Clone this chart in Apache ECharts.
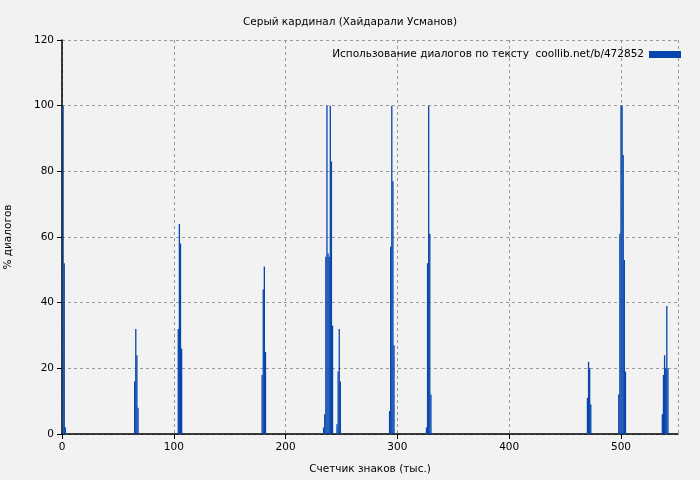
<!DOCTYPE html>
<html><head><meta charset="utf-8">
<script src="https://cdn.jsdelivr.net/npm/echarts@6/dist/echarts.min.js"></script>
<style>html,body{margin:0;padding:0;background:#f2f2f2}#c{width:700px;height:480px}</style>
</head><body><div id="c"></div>
<script>
const positions = [1,2,3, 65,66,67,68, 104,105,106,107, 179,180,181,182,
  234,235,236,237,238,239,240,241,242, 246,247,248,249,
  293,294,295,296,297, 326,327,328,329,330, 470,471,472,473,
  498,499,500,501,502,503,504, 537,538,539,540,541,542];
const percents = [100,52,2, 16,32,24,8, 32,64,58,26, 18,44,51,25,
  2,6,54,100,55,54,100,83,33, 3,19,32,16,
  7,57,100,77,27, 2,52,100,61,12, 11,22,20,9,
  12,61,100,100,85,53,19, 6,18,24,20,39,20];
const xTicks = [0,100,200,300,400,500];
const yTicks = [0,20,40,60,80,100,120];
const data = positions.map((p,i)=>[p,percents[i]]);
const font = 'DejaVu Sans';
const chart = echarts.init(document.getElementById('c'));
chart.setOption({
  backgroundColor:'#f2f2f2',
  animation:false,
  textStyle:{fontFamily:font},
  title:{text:'Серый кардинал (Хайдарали Усманов)',left:'center',top:12,
    textStyle:{fontSize:10.5,fontWeight:'normal',color:'#000',fontFamily:font}},
  legend:{right:14,top:44,itemWidth:32,itemHeight:7,itemGap:6,align:'right',icon:'rect',
    textStyle:{fontSize:10.5,color:'#000',fontFamily:font},
    data:['Использование диалогов по тексту  coollib.net/b/472852']},
  grid:{left:62,right:22,top:40,bottom:46,outerBoundsMode:'none',containLabel:false},
  xAxis:{type:'value',min:0,max:551,interval:100,
    name:'Счетчик знаков (тыс.)',nameLocation:'middle',nameGap:30,
    nameTextStyle:{fontSize:10.5,color:'#000'},
    axisLine:{show:true,lineStyle:{color:'#000',width:1.5}},
    axisTick:{show:true,inside:false,length:5,lineStyle:{color:'#000'}},
    axisLabel:{fontSize:10.5,color:'#000',showMaxLabel:false,
      formatter:v=>xTicks.includes(v)?String(v):''},
    splitLine:{show:true,lineStyle:{color:'#999',type:[3,3]}}},
  yAxis:{type:'value',min:0,max:120,interval:20,
    name:'% диалогов',nameLocation:'middle',nameGap:48,
    nameTextStyle:{fontSize:10.5,color:'#000'},
    axisLine:{show:true,lineStyle:{color:'#000',width:1.5}},
    axisTick:{show:true,length:5,lineStyle:{color:'#000'}},
    axisLabel:{fontSize:10.5,color:'#000',formatter:v=>yTicks.includes(v)?String(v):''},
    splitLine:{show:true,lineStyle:{color:'#999',type:[3,3]}}},
  series:[{name:'Использование диалогов по тексту  coollib.net/b/472852',
    type:'bar',barWidth:1.3,itemStyle:{color:'#0645ad'},data:data}]
});
</script></body></html>
